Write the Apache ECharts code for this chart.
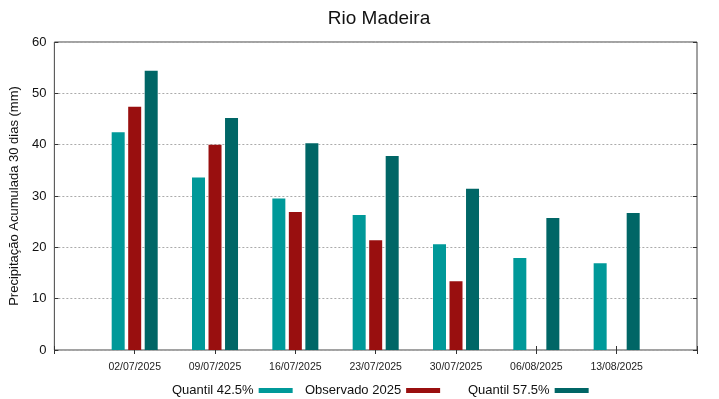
<!DOCTYPE html>
<html>
<head>
<meta charset="utf-8">
<script src="https://cdn.jsdelivr.net/npm/echarts@6/dist/echarts.min.js"></script>
<style>
  html, body { margin: 0; padding: 0; background: #fff; }
  #chart { width: 719px; height: 399px; }
</style>
</head>
<body>
<div id="chart"></div>
<script>
// datas da semana
const dates = ["02/07/2025", "09/07/2025", "16/07/2025", "23/07/2025", "30/07/2025", "06/08/2025", "13/08/2025"];
const quantil425 = [42.4, 33.6, 29.5, 26.3, 20.6, 17.9, 16.9];
const observado2025 = [47.4, 40.0, 26.9, 21.4, 13.4, null, null];
const quantil575 = [54.4, 45.2, 40.3, 37.8, 31.4, 25.7, 26.7];
const yTicks = [0, 10, 20, 30, 40, 50, 60];

// uma posição vazia em cada ponta, como no gnuplot
function pad(arr) {
  return ["-"].concat(arr.map(v => (v == null ? "-" : v)), ["-"]);
}
const cats = [""].concat(dates, [""]);

const font = "Liberation Sans, Arial, sans-serif";
const legendText = { fontFamily: font, fontSize: 13, color: "#111" };

function legendAt(left, name) {
  return {
    left: left, top: 379, data: [name], align: "right",
    itemWidth: 34, itemHeight: 5, itemGap: 0,
    icon: "rect", textStyle: legendText, selectedMode: false
  };
}

let myChart = echarts.init(document.getElementById("chart"));
let option = {
  animation: false,
  backgroundColor: "#fff",
  title: {
    text: "Rio Madeira", left: 374, textAlign: "center", top: 4,
    textStyle: { fontFamily: font, fontSize: 19, fontWeight: "normal", color: "#111" }
  },
  legend: [
    legendAt(167, "Quantil 42.5%"),
    legendAt(300, "Observado 2025"),
    legendAt(463, "Quantil 57.5%")
  ],
  grid: {
    left: 52, right: 22, top: 42, bottom: 49,
    show: true, borderColor: "#444", borderWidth: 1
  },
  xAxis: [
    {
      type: "category", data: cats, boundaryGap: false,
      axisLine: { show: false },
      axisTick: { show: true, inside: true, length: 4, lineStyle: { color: "#333" } },
      axisLabel: { fontFamily: font, fontSize: 10.5, color: "#222", margin: 12, interval: 0 }
    },
    {
      type: "category", data: cats, boundaryGap: false, position: "top",
      axisLine: { show: false },
      axisTick: { show: true, inside: true, length: 4, lineStyle: { color: "#333" } },
      axisLabel: { show: false }
    }
  ],
  yAxis: [
    {
      type: "value", min: yTicks[0], max: yTicks[yTicks.length - 1], interval: 10,
      name: "Precipitação Acumulada 30 dias (mm)", nameLocation: "middle", nameGap: 29,
      nameTextStyle: { fontFamily: font, fontSize: 13, color: "#111" },
      axisLine: { show: false },
      axisTick: { show: true, inside: true, length: 4, lineStyle: { color: "#333" } },
      axisLabel: { fontFamily: font, fontSize: 13, color: "#111", margin: 8 },
      splitLine: { show: true, lineStyle: { color: "#aaa", type: [2, 2], width: 1 } }
    },
    {
      type: "value", min: 0, max: 60, interval: 10, position: "right",
      axisLine: { show: false },
      axisTick: { show: true, inside: true, length: 4, lineStyle: { color: "#333" } },
      axisLabel: { show: false },
      splitLine: { show: false }
    }
  ],
  series: [
    {
      name: "Quantil 42.5%", type: "bar", data: pad(quantil425),
      barWidth: 13, barGap: "27%", itemStyle: { color: "#009999" }
    },
    {
      name: "Observado 2025", type: "bar", data: pad(observado2025),
      barWidth: 13, barGap: "27%", itemStyle: { color: "#990f0f" }
    },
    {
      name: "Quantil 57.5%", type: "bar", data: pad(quantil575),
      barWidth: 13, barGap: "27%", itemStyle: { color: "#006666" }
    }
  ]
};
myChart.setOption(option);
</script>
</body>
</html>
